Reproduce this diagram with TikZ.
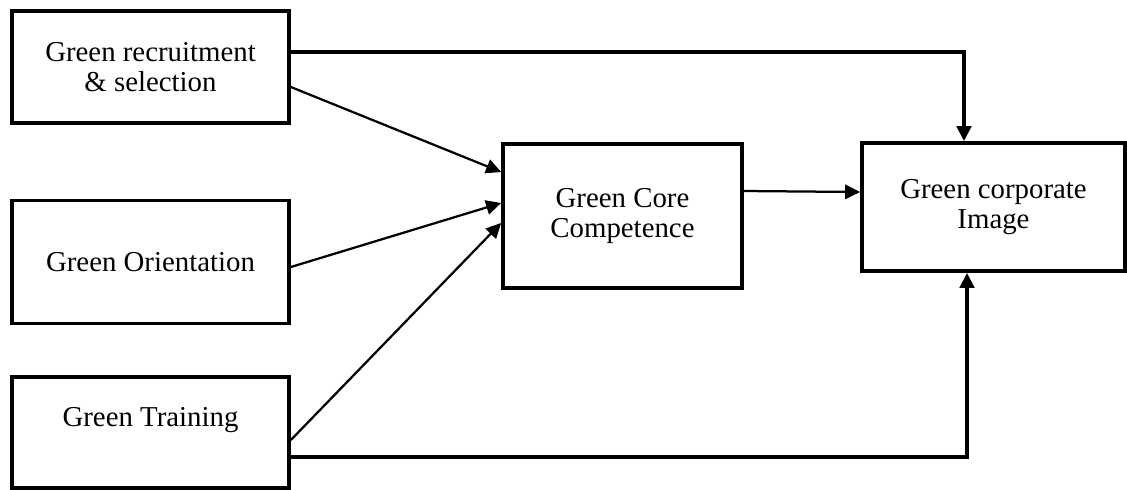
\documentclass[tikz,border=0pt]{standalone}
\usepackage{fontspec}
\setmainfont{Liberation Serif}
\usepackage{tikz}
\usetikzlibrary{calc,arrows.meta}

\begin{document}
\begin{tikzpicture}[x=0.025cm,y=-0.025cm]
    \tikzstyle{every node}=[draw,line width=2.6pt,align=center,inner sep=0pt,font=\fontsize{20.5}{21.5}\selectfont]
    \tikzstyle{arr}=[-{Triangle[length=0.375cm,width=0.36cm]}]
    \tikzstyle{thin}=[line width=1.6pt,arr]
    \tikzstyle{thick}=[line width=2.5pt,arr]
    \useasboundingbox (0,0) rectangle (1127,489);

    \node (1) at (150.5,67) [minimum width=6.925cm,minimum height=2.8cm] {Green recruitment\\\& selection};
    \node (2) at (150.5,262) [minimum width=6.925cm,minimum height=3.075cm] {Green Orientation};
    \node (3) at (150.5,432.5) [minimum width=6.925cm,minimum height=2.775cm] {Green Training\\\mbox{}};
    \node (4) at (622.5,216) [minimum width=5.975cm,minimum height=3.6cm] {Green Core\\Competence};
    \node (5) at (993.5,207) [minimum width=6.575cm,minimum height=3.2cm] {Green corporate\\Image};

    \draw[thick] ($(1.east)+(0,-15)$) -| ($(5.north)+(-29.5,0)$);
    \draw[thin] ($(1.east)+(0,20)$) -- ($(4.west)+(0,-44)$);
    \draw[thin] ($(2.east)+(0,5)$) -- ($(4.west)+(0,-13)$);
    \draw[thin] ($(3.east)+(0,7.5)$) -- ($(4.west)+(0,7)$);
    \draw[thin] ($(4.east)+(0,-25)$) -- ($(5.west)+(0,-15)$);
    \draw[thick] ($(3.east)+(0,24.5)$) -| ($(5.south)+(-26.5,0)$);
\end{tikzpicture}
\end{document}
